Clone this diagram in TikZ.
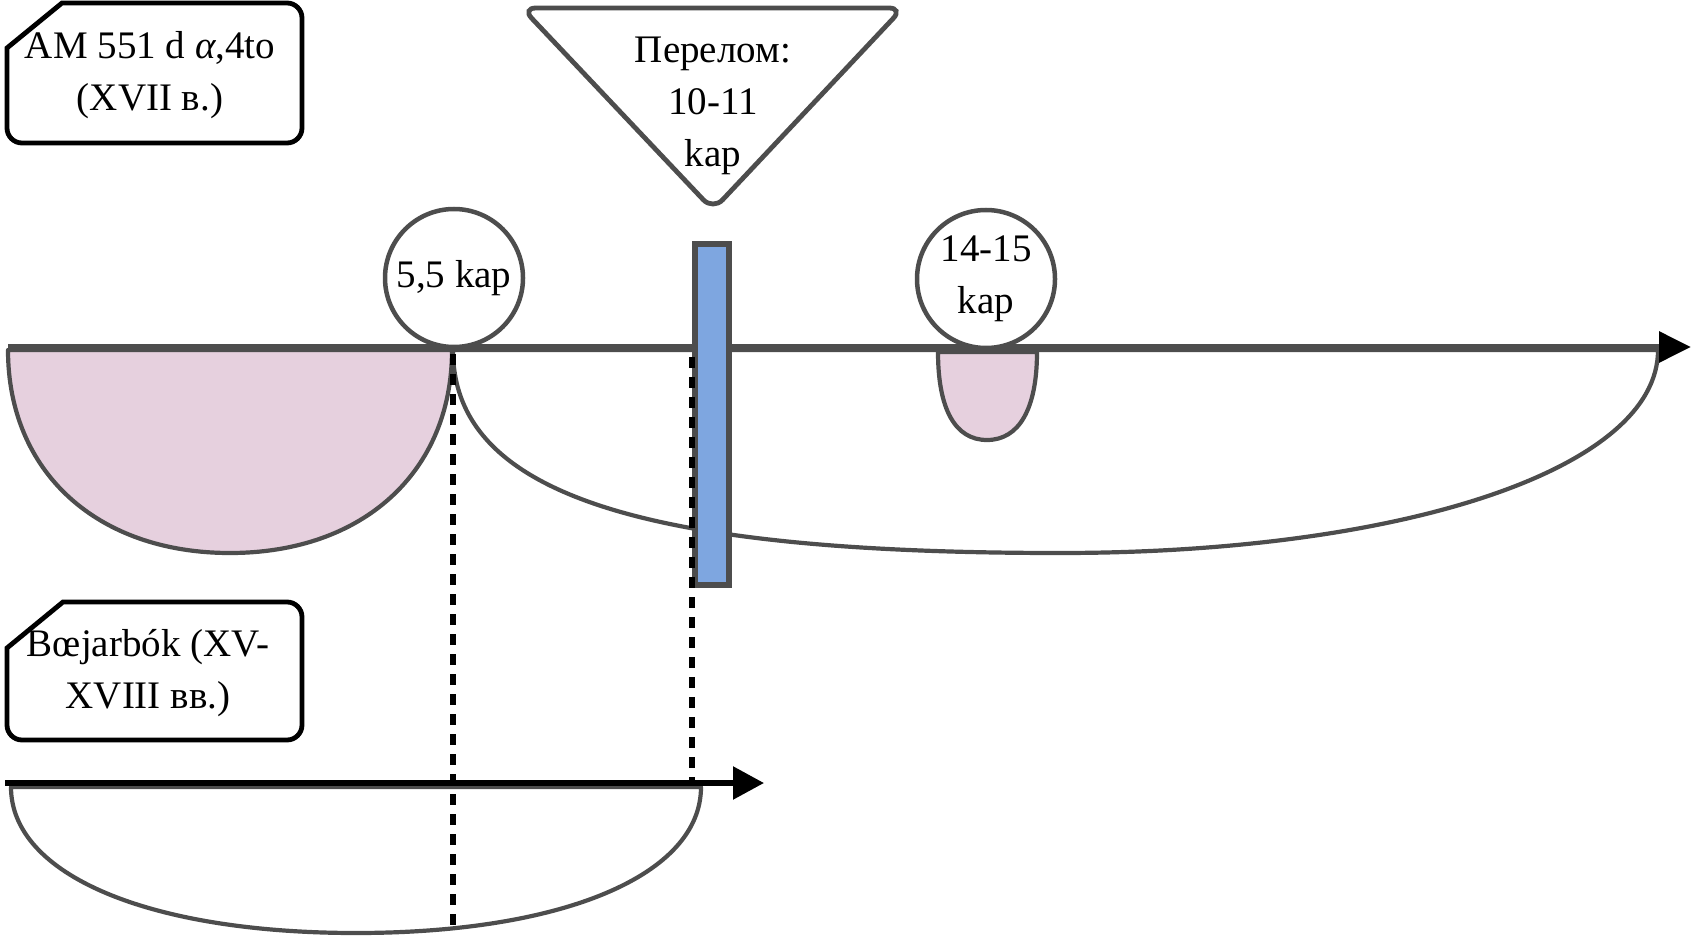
\documentclass[tikz,border=0pt]{standalone}
\usepackage{fontspec}
\setmainfont{Liberation Serif}
\usetikzlibrary{arrows.meta}
\definecolor{strokegray}{HTML}{4D4D4D}
\definecolor{pinkfill}{HTML}{E6D0DE}
\definecolor{bluefill}{HTML}{7EA6E0}
\tikzset{
  grayshape/.style={draw=strokegray, line width=4.2pt, line join=round},
  axisline/.style={draw=strokegray, line width=6pt},
  axisblack/.style={draw=black, line width=5.5pt},
  dashedlink/.style={draw=black, line width=5.5pt, dash pattern=on 11pt off 9pt},
  labelbox/.style={draw=black, line width=4.8pt, fill=white},
  txt/.style={font=\fontsize{39}{52}\selectfont, align=center, inner sep=0pt, text=black},
  kapcircle/.style={circle, draw=strokegray, line width=4.5pt, fill=white, minimum size=138pt, inner sep=0pt, font=\fontsize{39}{52}\selectfont, align=center},
}
\begin{document}
\begin{tikzpicture}[x=1pt, y=-1pt]
\useasboundingbox (0,0) rectangle (1691,941);
% large pink half shape
\path[grayshape, fill=pinkfill] (8,350) .. controls (8,472) and (97,553) .. (230,553)
  .. controls (363,553) and (452,472) .. (452,350) -- cycle;
% big white curve
\path[grayshape] (453,350) .. controls (453,500) and (660,553) .. (1060,553)
  .. controls (1400,553) and (1658,470) .. (1658,350) -- cycle;
% small pink cup
\path[grayshape, fill=pinkfill] (938,352) .. controls (938,409) and (955,440) .. (987,440)
  .. controls (1019,440) and (1037,409) .. (1037,352) -- cycle;
% main axis
\coordinate (axL) at (8,347);
\coordinate (axR) at (1691,347);
\draw[axisline, -{Triangle[length=32pt,width=30pt,color=black]}] (axL) -- (axR);
% circles
\node[kapcircle] (c1) at (454,278) {5,5 kap};
\node[kapcircle] (c2) at (986,279) {14-15\\kap};
% blue bar
\node[draw=strokegray, line width=6.5pt, fill=bluefill, minimum width=34pt, minimum height=341pt, inner sep=0pt] (bar) at (712,414.5) {};
% bottom shape and axis
\path[grayshape] (11,787) .. controls (11,875) and (149,933) .. (356,933)
  .. controls (563,933) and (701,875) .. (701,787) -- cycle;
\coordinate (bL) at (5,783);
\coordinate (bR) at (764,783);
\draw[axisblack, -{Triangle[length=31pt,width=32pt]}] (bL) -- (bR);
% dashed connectors
\coordinate (d1bot) at (453,933);
\coordinate (d2top) at (692,357);
\coordinate (d2bot) at (692,783);
\draw[dashedlink] ([xshift=-1pt,yshift=-5pt]c1.south) -- (d1bot);
\draw[dashedlink] (d2top) -- (d2bot);
% triangle
\path[draw=strokegray, line width=4.8pt, fill=white, rounded corners=14pt]
  (522,8) -- (903,8) -- (713,210) -- cycle;
\node[txt] (tri) at (713,106) {Перелом:\\10-11\\kap};
% label boxes
\path[labelbox] (7,48) -- (62,3) [rounded corners=15pt] -- (302,3) -- (302,143) -- (7,143) [sharp corners] -- cycle;
\node[txt] (am) at (150,75) {AM 551 d \textit{α},4to\\(XVII в.)};
\path[labelbox] (7,648) -- (63,602) [rounded corners=15pt] -- (302,602) -- (302,740) -- (7,740) [sharp corners] -- cycle;
\node[txt] (boe) at (148,673) {Bœjarbók (XV-\\XVIII вв.)};
\end{tikzpicture}
\end{document}
